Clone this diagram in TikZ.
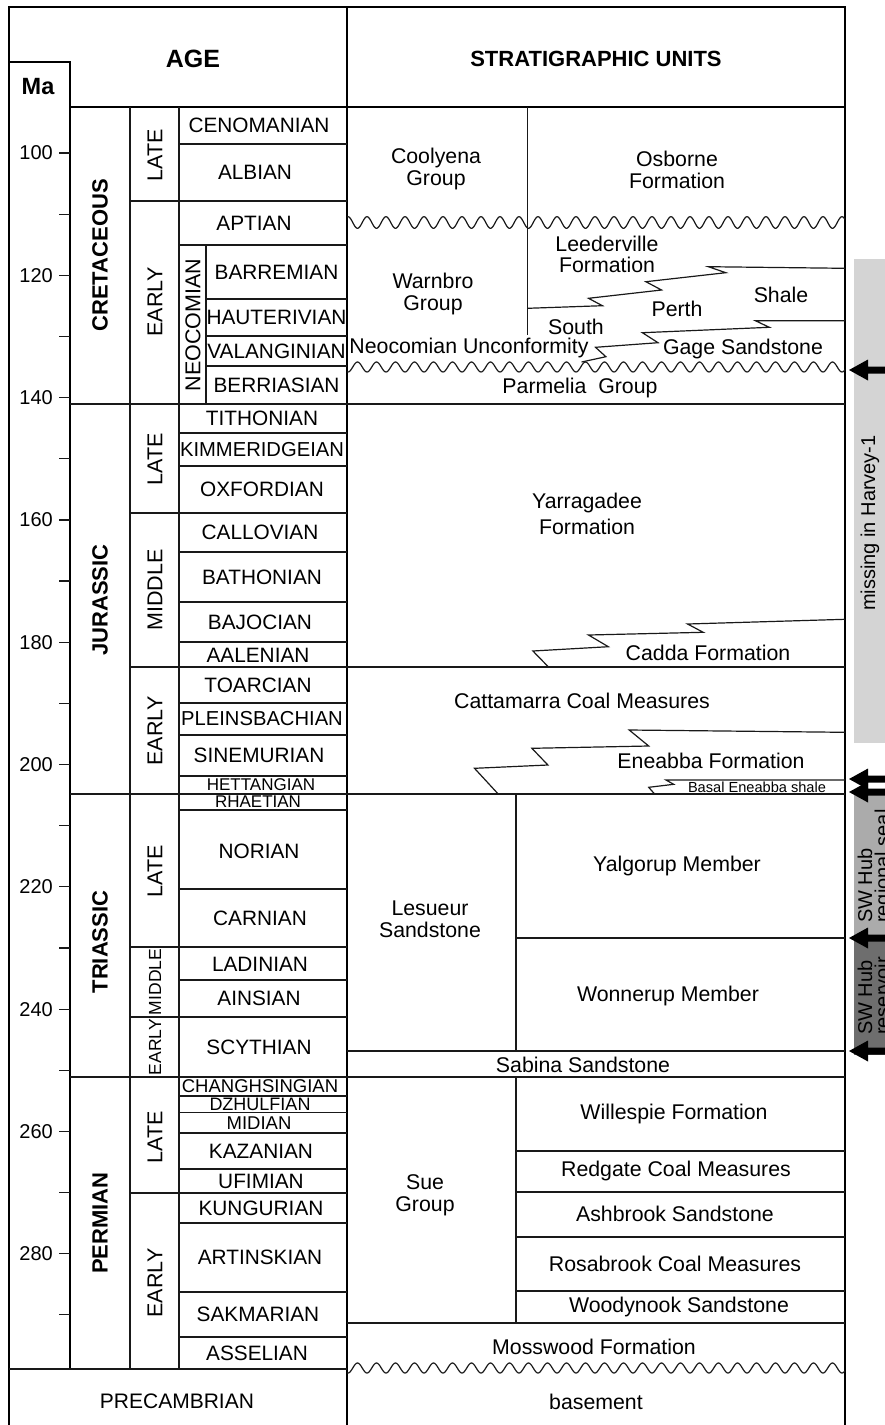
\documentclass[tikz,border=0pt]{standalone}
\usepackage{fontspec}
\setmainfont{Liberation Sans}
\begin{document}
\begin{tikzpicture}[x=1pt,y=-1pt,
  thk/.style={line width=2.2pt,black},
  thn/.style={line width=1.2pt,black!90},
  stg/.style={inner sep=0pt,font=\fontsize{20.8}{22}\selectfont},
  smstg/.style={inner sep=0pt,font=\fontsize{17}{18}\selectfont},
  per/.style={inner sep=0pt,rotate=90,font=\bfseries\fontsize{22}{24}\selectfont},
  epo/.style={inner sep=0pt,rotate=90,font=\fontsize{21.5}{23}\selectfont},
  smepo/.style={inner sep=0pt,rotate=90,font=\fontsize{17.5}{19}\selectfont},
  unit/.style={inner sep=0pt,align=center,font=\fontsize{21.3}{22}\selectfont},
  num/.style={inner sep=0pt,anchor=east,font=\fontsize{20}{21}\selectfont},
  hdr/.style={inner sep=0pt,font=\bfseries\fontsize{22}{25}\selectfont},
  side/.style={inner sep=0pt,rotate=90,font=\fontsize{20}{23}\selectfont},
  larrow/.pic={\fill[black] (0,0) -- (19,-10.5) -- (19,-3.5) -- (37,-3.5) -- (37,3.5) -- (19,3.5) -- (19,10.5) -- cycle;}
]
\useasboundingbox (0,0) rectangle (885,1425);
\fill[white] (0,0) rectangle (885,1425);

% side bars
\fill[black!17] (854,259) rectangle (885,743);
\fill[black!33] (854,793) rectangle (885,938);
\fill[black!57] (854,940) rectangle (885,1055);
\node[side] (missing) at (870,523) {missing in Harvey-1};
\node[side,align=left,anchor=north west,font=\fontsize{20}{17}\selectfont] (seal) at (857.5,923) {SW Hub\\regional seal};
\node[side,align=left,anchor=north west,font=\fontsize{20}{17}\selectfont] (res) at (857.5,1035) {SW Hub\\reservoir};

% frame
\draw[thk] (9,1426) -- (9,7) -- (845,7) -- (845,1426);
\draw[thk] (347,7) -- (347,1426);
\draw[thk] (9,62) -- (70,62) -- (70,1369);
\draw[thk] (70,107) -- (845,107);
\draw[thn] (9,1369) -- (347,1369);
\draw[thn] (130,107) -- (130,1369);
\draw[thn] (179,107) -- (179,1369);
\draw[thn] (206,245) -- (206,404);

% period boundaries
\foreach \yy in {404,794,1077} \draw[thn] (70,\yy) -- (845,\yy);
% epoch boundaries
\foreach \yy in {201,513,947,1017,1193} \draw[thn] (130,\yy) -- (347,\yy);
\draw[thn] (130,667) -- (845,667);
% stage boundaries
\foreach \yy in {144,245,433,466,552,602,642,703,735,776,810,889,980,1096,1112.5,1133,1169,1223,1292,1337} \draw[thn] (179,\yy) -- (347,\yy);
\foreach \yy in {299,336,366} \draw[thn] (206,\yy) -- (347,\yy);

% ticks
\foreach \m in {100,110,...,290} \draw[thn] (59,{153+(\m-100)*6.115}) -- (70,{153+(\m-100)*6.115});
\foreach \m in {100,120,...,280} \node[num] (n\m) at (53,{153+(\m-100)*6.115}) {\m};

% headers
\node[hdr,font=\bfseries\fontsize{25}{27}\selectfont] (age) at (193,59) {AGE};
\node[hdr] (strat) at (596,59) {STRATIGRAPHIC UNITS};
\node[hdr,font=\bfseries\fontsize{23.5}{25}\selectfont] (ma) at (38,87) {Ma};

% periods
\node[per] (cret) at (100,255.5) {CRETACEOUS};
\node[per] (jur) at (100,600) {JURASSIC};
\node[per] (tri) at (100,942) {TRIASSIC};
\node[per] (perm) at (100,1223) {PERMIAN};

% epochs
\node[epo] (e1) at (155,155) {LATE};
\node[epo] (e2) at (155,302) {EARLY};
\node[epo] (e3) at (155,459) {LATE};
\node[epo] (e4) at (155,590) {MIDDLE};
\node[epo] (e5) at (155,731) {EARLY};
\node[epo] (e6) at (155,871) {LATE};
\node[smepo] (e7) at (155,982) {MIDDLE};
\node[smepo] (e8) at (155,1047) {EARLY};
\node[epo] (e9) at (155,1137) {LATE};
\node[epo] (e10) at (155,1283) {EARLY};
\node[epo] (neo) at (193,325) {NEOCOMIAN};

% stages
\node[stg] (s1) at (259,125.5) {CENOMANIAN};
\node[stg] (s2) at (255,172.5) {ALBIAN};
\node[stg] (s3) at (254,223) {APTIAN};
\node[stg] (s4) at (276.5,272) {BARREMIAN};
\node[stg] (s5) at (276.5,317.5) {HAUTERIVIAN};
\node[stg] (s6) at (276.5,351) {VALANGINIAN};
\node[stg] (s7) at (276.5,385) {BERRIASIAN};
\node[stg] (s8) at (262,418.5) {TITHONIAN};
\node[stg,font=\fontsize{20.2}{21}\selectfont] (s9) at (262,449.5) {KIMMERIDGEIAN};
\node[stg] (s10) at (262,489.5) {OXFORDIAN};
\node[stg] (s11) at (260,532.5) {CALLOVIAN};
\node[stg] (s12) at (262,577) {BATHONIAN};
\node[stg] (s13) at (260,622) {BAJOCIAN};
\node[stg] (s14) at (258,655) {AALENIAN};
\node[stg] (s15) at (258,685) {TOARCIAN};
\node[stg,font=\fontsize{20.2}{21}\selectfont] (s16) at (262,719) {PLEINSBACHIAN};
\node[stg] (s17) at (259,755.5) {SINEMURIAN};
\node[smstg] (s18) at (261,785) {HETTANGIAN};
\node[smstg] (s19) at (258,802) {RHAETIAN};
\node[stg] (s20) at (259,851) {NORIAN};
\node[stg] (s21) at (260,918) {CARNIAN};
\node[stg] (s22) at (260,964) {LADINIAN};
\node[stg] (s23) at (259,998) {AINSIAN};
\node[stg] (s24) at (259,1047) {SCYTHIAN};
\node[stg,font=\fontsize{18.5}{20}\selectfont] (s25) at (260,1086.5) {CHANGHSINGIAN};
\node[stg,font=\fontsize{18}{19}\selectfont] (s26) at (260,1104.3) {DZHULFIAN};
\node[stg,font=\fontsize{18.5}{20}\selectfont] (s27) at (259,1123) {MIDIAN};
\node[stg] (s28) at (261,1151.5) {KAZANIAN};
\node[stg] (s29) at (261,1181) {UFIMIAN};
\node[stg] (s30) at (261,1208) {KUNGURIAN};
\node[stg] (s31) at (260,1257.5) {ARTINSKIAN};
\node[stg] (s32) at (258,1314) {SAKMARIAN};
\node[stg] (s33) at (257,1353) {ASSELIAN};
\node[stg,font=\fontsize{21}{22}\selectfont] (pc) at (177,1401) {PRECAMBRIAN};

% strat column lines
\draw[thn] (527.5,107) -- (527.5,335);
\draw[thn] plot[domain=347:845,samples=499] (\x,{222.5-5.8*cos((\x-348)/19*360)});
\draw[thn] plot[domain=347:845,samples=499] (\x,{367+5*cos((\x-348)/19*360)});
\draw[thn] plot[domain=347:845,samples=499] (\x,{1368+5*cos((\x-348)/19*360)});
\draw[thn] (845,268.3) -- (708.4,266.7) -- (725.8,272.7) -- (645.9,281.7) -- (661.5,290) -- (588.5,298.3) -- (602.4,305.7) -- (527.5,308.3);
\draw[thn] (845,320.7) -- (755.4,320.7) -- (769.3,327.3) -- (642.4,332.7) -- (658,342.7) -- (595.5,347.3) -- (605.9,356.7) -- (581.6,362);
\draw[thn] (845,619.3) -- (687.6,624) -- (703.2,632.3) -- (588.5,635) -- (608.3,646.7) -- (532.9,651) -- (548.5,667);
\draw[thn] (845,732.3) -- (629.2,730) -- (648.7,746) -- (531.9,748.3) -- (547.9,765) -- (474.5,768.3) -- (498.2,794);
\draw[thn] (845,780) -- (666,780) -- (673.7,784.3) -- (648.7,787.3) -- (654.6,794);
\draw[thn] (516,794) -- (516,1051);
\draw[thn] (516,938) -- (845,938);
\draw[thn] (347,1051) -- (845,1051);
\draw[thn] (516,1077) -- (516,1323);
\foreach \yy in {1151,1192,1237,1291} \draw[thn] (516,\yy) -- (845,\yy);
\draw[thn] (347,1323) -- (845,1323);

% strat units
\node[unit] (u1) at (436,169) {Coolyena\\Group};
\node[unit] (u2) at (677,169.5) {Osborne\\Formation};
\node[unit] (u3) at (433,294) {Warnbro\\Group};
\node[unit,font=\fontsize{21.3}{21}\selectfont] (u4) at (607,254) {Leederville\\Formation};
\node[unit] (u5) at (781,295) {Shale};
\node[unit] (u6) at (677,309) {Perth};
\node[unit] (u7) at (576,327) {South};
\node[unit] (u8) at (469,348) {Neocomian Unconformity};
\node[unit] (u9) at (743,349) {Gage Sandstone};
\node[unit] (u10) at (580,388) {Parmelia\ \ Group};
\node[unit,font=\fontsize{21.3}{25.5}\selectfont] (u11) at (587,514) {Yarragadee\\Formation};
\node[unit] (u12) at (708,653) {Cadda Formation};
\node[unit] (u13) at (582,701) {Cattamarra Coal Measures};
\node[unit] (u14) at (711,761) {Eneabba Formation};
\node[unit,font=\fontsize{14.6}{16}\selectfont] (u15) at (757,787) {Basal Eneabba shale};
\node[unit] (u16) at (677,866) {Yalgorup Member};
\node[unit] (u17) at (430,919) {Lesueur\\Sandstone};
\node[unit] (u18) at (668,996) {Wonnerup Member};
\node[unit] (u19) at (583,1065) {Sabina Sandstone};
\node[unit] (u20) at (674,1114) {Willespie Formation};
\node[unit] (u21) at (425,1195) {Sue\\Group};
\node[unit] (u22) at (676,1171) {Redgate Coal Measures};
\node[unit] (u23) at (675,1214) {Ashbrook Sandstone};
\node[unit] (u24) at (675,1264) {Rosabrook Coal Measures};
\node[unit] (u25) at (679,1307) {Woodynook Sandstone};
\node[unit] (u26) at (594,1347) {Mosswood Formation};
\node[unit] (u27) at (596,1402) {basement};

% arrows
\pic at (849,370) {larrow};
\pic at (849,779) {larrow};
\pic at (849,792) {larrow};
\pic at (849,938) {larrow};
\pic at (849,1051) {larrow};
\end{tikzpicture}
\end{document}
